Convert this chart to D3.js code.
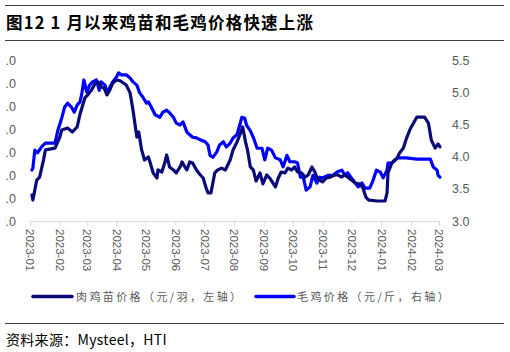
<!DOCTYPE html>
<html><head><meta charset="utf-8">
<script src="https://cdn.jsdelivr.net/npm/d3@7"></script>
<style>
html,body{margin:0;padding:0;background:#fff;}
svg{display:block;}
</style>
</head><body>
<svg id="c" width="510" height="352"></svg>
<script>
// ---- data ----
const titleText = "图12 1 月以来鸡苗和毛鸡价格快速上涨";
const sourceText = "资料来源：Mysteel，HTI";
const seriesNames = ["肉鸡苗价格（元/羽，左轴）", "毛鸡价格（元/斤，右轴）"];
const xTickLabels = ["2023-01","2023-02","2023-03","2023-04","2023-05","2023-06","2023-07","2023-08","2023-09","2023-10","2023-11","2023-12","2024-01","2024-02","2024-03"];
const leftTicks = [0,1,2,3,4,5,6,7];
const rightTicks = [3.0,3.5,4.0,4.5,5.0,5.5];

const chickDates = ["2023-01-03","2023-01-04","2023-01-08","2023-01-11","2023-01-15","2023-01-17","2023-01-27","2023-02-01","2023-02-03","2023-02-09","2023-02-14","2023-02-19","2023-02-22","2023-02-27","2023-03-02","2023-03-06","2023-03-10","2023-03-13","2023-03-16","2023-03-19","2023-03-22","2023-03-25","2023-03-28","2023-04-01","2023-04-05","2023-04-08","2023-04-11","2023-04-15","2023-04-18","2023-04-22","2023-04-24","2023-04-27","2023-04-30","2023-05-04","2023-05-06","2023-05-09","2023-05-13","2023-05-14","2023-05-18","2023-05-21","2023-05-23","2023-05-26","2023-05-30","2023-06-02","2023-06-06","2023-06-08","2023-06-11","2023-06-13","2023-06-16","2023-06-19","2023-06-23","2023-06-27","2023-06-30","2023-07-03","2023-07-05","2023-07-08","2023-07-10","2023-07-12","2023-07-15","2023-07-19","2023-07-23","2023-07-28","2023-07-31","2023-08-04","2023-08-07","2023-08-10","2023-08-13","2023-08-15","2023-08-18","2023-08-21","2023-08-24","2023-08-28","2023-08-31","2023-09-04","2023-09-07","2023-09-13","2023-09-16","2023-09-19","2023-09-23","2023-09-26","2023-09-30","2023-10-03","2023-10-06","2023-10-10","2023-10-14","2023-10-17","2023-10-21","2023-10-24","2023-10-26","2023-10-29","2023-11-01","2023-11-05","2023-11-09","2023-11-14","2023-11-17","2023-11-21","2023-11-24","2023-11-27","2023-12-01","2023-12-05","2023-12-10","2023-12-13","2023-12-16","2023-12-19","2023-12-28","2024-01-05","2024-01-07","2024-01-08","2024-01-12","2024-01-17","2024-01-20","2024-01-24","2024-01-27","2024-01-31","2024-02-03","2024-02-07","2024-02-15","2024-02-19","2024-02-22","2024-02-26","2024-02-29","2024-03-02"];
const chickValues = [1.13,0.91,1.78,1.91,2.65,3.09,3.17,3.65,3.96,4.04,3.87,4.09,4.65,5.35,5.48,5.70,6.00,6.04,5.83,5.78,5.48,5.70,6.00,6.13,6.09,6.00,5.91,5.57,4.83,3.65,3.87,3.09,2.65,2.78,2.52,2.09,1.87,2.22,2.13,2.52,2.87,2.35,2.22,2.09,2.35,2.57,2.35,2.22,2.57,2.52,2.22,2.00,1.87,1.43,1.22,1.22,1.65,2.09,2.22,2.30,2.22,2.65,3.09,3.43,3.74,4.09,3.43,3.09,2.35,2.22,1.74,2.09,1.61,2.00,1.87,1.48,1.87,2.13,2.09,2.30,2.22,2.35,2.13,2.09,1.91,2.00,2.35,2.13,1.91,1.78,1.70,1.87,1.91,2.00,2.00,1.91,2.00,1.91,1.78,1.65,1.61,1.43,1.04,0.91,0.87,0.87,1.22,2.09,2.52,2.70,2.96,3.17,3.57,4.00,4.22,4.52,4.52,4.26,3.52,3.17,3.35,3.22];

const broilerDates = ["2023-01-03","2023-01-04","2023-01-06","2023-01-09","2023-01-13","2023-01-17","2023-01-27","2023-01-30","2023-02-03","2023-02-06","2023-02-09","2023-02-13","2023-02-16","2023-02-19","2023-02-22","2023-02-24","2023-02-26","2023-03-01","2023-03-04","2023-03-07","2023-03-11","2023-03-14","2023-03-16","2023-03-20","2023-03-22","2023-03-25","2023-03-28","2023-04-01","2023-04-03","2023-04-06","2023-04-11","2023-04-15","2023-04-18","2023-04-22","2023-04-25","2023-04-28","2023-05-02","2023-05-04","2023-05-07","2023-05-11","2023-05-16","2023-05-19","2023-05-23","2023-05-26","2023-05-30","2023-06-02","2023-06-06","2023-06-09","2023-06-13","2023-06-16","2023-06-19","2023-06-23","2023-06-27","2023-07-02","2023-07-05","2023-07-07","2023-07-10","2023-07-14","2023-07-17","2023-07-21","2023-07-24","2023-07-28","2023-07-31","2023-08-04","2023-08-07","2023-08-09","2023-08-12","2023-08-14","2023-08-18","2023-08-21","2023-08-25","2023-08-30","2023-09-02","2023-09-05","2023-09-09","2023-09-13","2023-09-18","2023-09-21","2023-09-25","2023-09-28","2023-10-03","2023-10-06","2023-10-09","2023-10-12","2023-10-15","2023-10-19","2023-10-22","2023-10-26","2023-10-29","2023-11-01","2023-11-07","2023-11-12","2023-11-16","2023-11-21","2023-11-24","2023-11-27","2023-12-01","2023-12-05","2023-12-08","2023-12-12","2023-12-15","2023-12-20","2023-12-23","2023-12-27","2023-12-31","2024-01-03","2024-01-07","2024-01-08","2024-01-12","2024-01-15","2024-01-18","2024-01-27","2024-02-07","2024-02-21","2024-02-24","2024-02-28","2024-02-29","2024-03-02"];
const broilerValues = [3.79,3.82,4.10,4.06,4.15,4.21,4.21,4.41,4.60,4.77,4.83,4.77,4.69,4.80,4.85,4.99,5.19,5.00,5.11,5.16,5.19,5.03,5.16,5.11,4.99,5.08,5.16,5.24,5.30,5.27,5.27,5.22,5.16,5.11,4.99,4.93,4.83,4.85,4.77,4.65,4.61,4.69,4.72,4.68,4.61,4.52,4.49,4.54,4.38,4.34,4.30,4.29,4.26,4.23,4.18,4.02,3.99,4.07,4.18,4.23,4.15,4.21,4.29,4.34,4.49,4.61,4.60,4.49,4.40,4.30,4.13,4.13,3.95,4.13,4.10,3.98,3.95,3.84,4.02,3.92,3.92,3.90,3.68,3.68,3.48,3.53,3.71,3.59,3.68,3.67,3.71,3.71,3.76,3.79,3.71,3.75,3.67,3.59,3.53,3.59,3.51,3.51,3.61,3.79,3.76,3.67,3.79,3.90,3.90,3.95,3.98,3.98,3.96,3.96,3.84,3.79,3.71,3.68];

// ---- drawing ----
const svg = d3.select("#c");
const parse = d3.timeParse("%Y-%m-%d");
const darkColor = "#0a0a78";
const blueColor = "#0000ff";
const cjk = "'Noto Sans CJK SC','Noto Sans',sans-serif";
const latin = "'Liberation Sans',Arial,sans-serif";

const x = d3.scaleTime().domain([parse("2023-01-01"), parse("2024-03-01")]).range([30, 439]);
const yL = d3.scaleLinear().domain([0, 7]).range([221, 60]);
const yR = d3.scaleLinear().domain([3.0, 5.5]).range([221, 60]);

svg.append("defs").append("clipPath").attr("id","leftclip")
  .append("rect").attr("x",5).attr("y",0).attr("width",30).attr("height",352);

// header rules
svg.append("line").attr("x1",5).attr("x2",504).attr("y1",5.5).attr("y2",5.5).attr("stroke","#404040").attr("stroke-width",1.2);
svg.append("line").attr("x1",5).attr("x2",504).attr("y1",40.5).attr("y2",40.5).attr("stroke","#404040").attr("stroke-width",1);
svg.append("text").attr("x",6).attr("y",29).attr("font-family",cjk).attr("font-weight","bold").attr("font-size",16.5).attr("letter-spacing",1.2).attr("fill","#000").text(titleText);

// x axis
const xTickDates = xTickLabels.map(s => parse(s + "-01"));
const xAxis = d3.axisBottom(x).tickValues(xTickDates).tickSize(5).tickFormat((d,i) => xTickLabels[i]);
const gx = svg.append("g").attr("transform","translate(0,221)").call(xAxis);
gx.select(".domain").attr("stroke","#d9d9d9").attr("stroke-width",1.2);
gx.selectAll(".tick line").attr("stroke","#d9d9d9");
gx.selectAll(".tick text")
  .attr("font-family",latin).attr("font-size",11.5).attr("fill","#595959")
  .attr("transform","rotate(90)").attr("text-anchor","start")
  .attr("x",8).attr("y",0).attr("dy","0.35em");

// left axis (its leading digits are cut off at the left edge, as in the reference)
const gl = svg.append("g").attr("clip-path","url(#leftclip)").append("g").attr("transform","translate(19,0)")
  .call(d3.axisLeft(yL).tickValues(leftTicks).tickSize(0).tickPadding(3).tickFormat(d3.format(".1f")));
gl.select(".domain").remove();
gl.selectAll(".tick text").attr("font-family",latin).attr("font-size",12.5).attr("fill","#595959");

// right axis
const gr = svg.append("g").attr("transform","translate(449,0)")
  .call(d3.axisRight(yR).tickValues(rightTicks).tickSize(0).tickPadding(3).tickFormat(d3.format(".1f")));
gr.select(".domain").remove();
gr.selectAll(".tick text").attr("font-family",latin).attr("font-size",12.5).attr("fill","#595959");

// lines
const chick = chickDates.map((d,i) => ({d: parse(d), v: chickValues[i]}));
const broiler = broilerDates.map((d,i) => ({d: parse(d), v: broilerValues[i]}));
svg.append("path").datum(broiler)
  .attr("d", d3.line().x(p => x(p.d)).y(p => yR(p.v)))
  .attr("fill","none").attr("stroke",blueColor).attr("stroke-width",3.2).attr("stroke-linejoin","round").attr("stroke-linecap","round");
svg.append("path").datum(chick)
  .attr("d", d3.line().x(p => x(p.d)).y(p => yL(p.v)))
  .attr("fill","none").attr("stroke",darkColor).attr("stroke-width",3.2).attr("stroke-linejoin","round").attr("stroke-linecap","round");

// legend
const legend = [
  {name: seriesNames[0], color: darkColor, x1: 33, x2: 72, tx: 76},
  {name: seriesNames[1], color: blueColor, x1: 256, x2: 294, tx: 297}
];
legend.forEach(l => {
  svg.append("line").attr("x1",l.x1).attr("x2",l.x2).attr("y1",296.5).attr("y2",296.5)
    .attr("stroke",l.color).attr("stroke-width",3.5).attr("stroke-linecap","round");
  svg.append("text").attr("x",l.tx).attr("y",300.5).attr("font-family",cjk).attr("font-size",11).attr("letter-spacing",2.4).attr("fill","#595959").text(l.name);
});

// footer
svg.append("line").attr("x1",5).attr("x2",504).attr("y1",323.5).attr("y2",323.5).attr("stroke","#404040").attr("stroke-width",1);
svg.append("text").attr("x",6).attr("y",345).attr("font-family",cjk).attr("font-size",14).attr("letter-spacing",0.3).attr("fill","#000").text(sourceText);
</script>
</body></html>
